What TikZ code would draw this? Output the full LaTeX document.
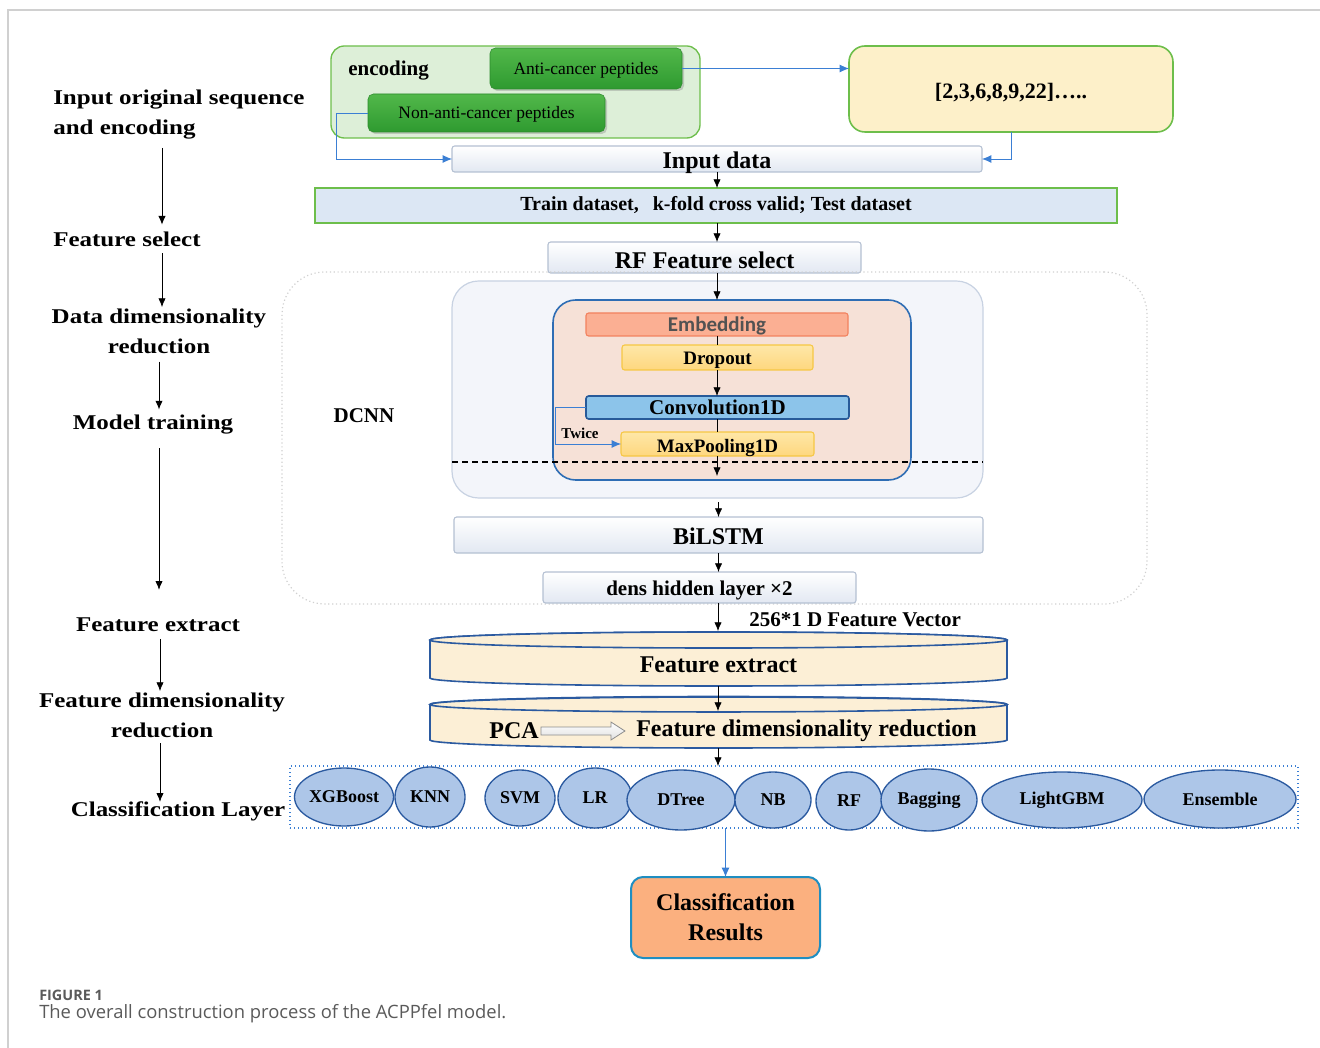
\documentclass[tikz,border=0pt]{standalone}
\usepackage{fontspec}
\setmainfont{Liberation Serif}
\newfontfamily\lblfont[FakeStretch=1.19]{Liberation Serif}
\newfontfamily\embfont{Carlito}
\newfontfamily\capfont{Open Sans}
\usetikzlibrary{arrows.meta,shapes.geometric,shadows}
\definecolor{encfill}{HTML}{DDEFD8}
\definecolor{encline}{HTML}{6DBE4B}
\definecolor{gtop}{HTML}{52B84A}
\definecolor{gbot}{HTML}{2E9A30}
\definecolor{gline}{HTML}{2C8A2C}
\definecolor{vecfill}{HTML}{FDF0C9}
\definecolor{linkblue}{HTML}{3B7FD4}
\definecolor{barline}{HTML}{B4C0D2}
\definecolor{barbot}{HTML}{E2E8F2}
\definecolor{trainfill}{HTML}{DCE7F4}
\definecolor{dcnnfill}{HTML}{F3F5FA}
\definecolor{dcnnline}{HTML}{C8D2E2}
\definecolor{orfill}{HTML}{F6E1D7}
\definecolor{orline}{HTML}{2E6DB4}
\definecolor{embfill}{HTML}{FBAF93}
\definecolor{embline}{HTML}{F2815E}
\definecolor{yelfill}{HTML}{FED77E}
\definecolor{yeltop}{HTML}{FEE7A8}
\definecolor{yelline}{HTML}{F6C744}
\definecolor{convfill}{HTML}{8CC4EA}
\definecolor{convline}{HTML}{275A99}
\definecolor{cylfill}{HTML}{FCEFD6}
\definecolor{cylline}{HTML}{2B5AA0}
\definecolor{ellfill}{HTML}{ADC6E8}
\definecolor{resfill}{HTML}{FBB07F}
\definecolor{resline}{HTML}{1F8EC1}
\definecolor{capgray}{HTML}{5A5A5A}
\definecolor{framegray}{HTML}{D0D0D0}
\begin{document}
\begin{tikzpicture}[x=0.75pt,y=-0.75pt,
  rect/.style n args={4}{minimum width={(#3-#1)*0.75pt}, minimum height={(#4-#2)*0.75pt},
        at={({(#1+#3)/2},{(#2+#4)/2})}, inner sep=0, outer sep=0},
  vc/.style={text height=#1, text depth=0pt},
  lbl/.style={font=\lblfont\bfseries\fontsize{15.75}{22.5}\selectfont, align=center, inner sep=0},
  bigtxt/.style={font=\bfseries\fontsize{18}{22.5}\selectfont},
  midtxt/.style={font=\bfseries\fontsize{15.75}{19}\selectfont},
  bar/.style={draw=barline, top color=white, bottom color=barbot, rounded corners=2pt, line width=0.8pt},
  gbox/.style={top color=gtop, bottom color=gbot, draw=gline, rounded corners=4pt,
     font=\fontsize{13.1}{16}\selectfont, drop shadow={opacity=.35,shadow xshift=1.5pt,shadow yshift=-1.5pt}},
  yelbox/.style={top color=yeltop, bottom color=yelfill, draw=yelline, line width=0.8pt, rounded corners=2pt},
  karrow/.style={-{Latex[length=6.5pt,width=5.5pt]}, black, line width=0.6pt},
  barrow/.style={-{Latex[length=7pt,width=6pt]}, linkblue, line width=0.7pt},
  ell/.style={ellipse, draw=cylline, fill=ellfill, line width=1pt, inner sep=0, font=\bfseries\fontsize{13.5}{16}\selectfont},
  cylbody/.style={fill=cylfill, draw=cylline, line width=1.2pt}
]
\useasboundingbox (0,0) rectangle (1320,1048);
% page frame
\draw[framegray, line width=0.8pt] (8,1048) -- (8,10) -- (1320,10);

% ---------- left column ----------
\node[lbl, align=left, anchor=west] (l1) at (53,115) {Input original sequence\\and encoding};
\node[lbl, anchor=west] (l2) at (53,239) {Feature select};
\node[lbl] (l3) at (159,331) {Data dimensionality\\reduction};
\node[lbl] (l4) at (153,425) {Model training};
\node[lbl] (l5) at (158,625) {Feature extract};
\node[lbl] (l6) at (162,715) {Feature dimensionality\\reduction};
\node[lbl] (l7) at (178,811) {Classification Layer};
\draw[karrow, shorten <=6pt, shorten >=5pt] (l1.south -| 162,0) -- (l2.north -| 162,0);
\draw[karrow, shorten <=5pt, shorten >=1pt] (l2.south -| 162,0) -- (l3.north -| 162,0);
\draw[karrow, shorten <=6pt, shorten >=4.25pt] (l3.south -| 159,0) -- (l4.north -| 159,0);
\draw[karrow, shorten <=10pt, shorten >=21pt] (l4.south -| 159,0) -- (l5.north -| 159,0);
\draw[karrow, shorten <=5pt, shorten >=1pt] (l5.south -| 160,0) -- (l6.north -| 160,0);
\draw[karrow, shorten <=4pt, shorten >=-0.5pt] (l6.south -| 160,0) -- (l7.north -| 160,0);

% ---------- encoding ----------
\node[draw=encline, fill=encfill, rounded corners=10pt, line width=1pt, rect={331}{46}{700}{138}] (enc) {};
\node[font=\bfseries\fontsize{15.75}{18}\selectfont, anchor=west, inner sep=0] (enct) at (348,71) {encoding};
\node[gbox, vc=8.9pt, rect={490}{48}{682}{89}] (acp) {Anti-cancer peptides};
\node[gbox, vc=8.9pt, rect={368}{94}{605}{132}] (nacp) {Non-anti-cancer peptides};
\node[draw=encline, fill=vecfill, rounded corners=12pt, line width=1.2pt, rect={849}{46}{1173}{132}, vc=13.6pt,
      font=\bfseries\fontsize{16.5}{20}\selectfont] (vec) {[2,3,6,8,9,22]…..};

% ---------- bars ----------
\node[bar, bigtxt, vc=14.4pt, rect={452}{146}{982}{172}] (input) {Input data};
\node[draw=encline, fill=trainfill, line width=1pt, rect={315}{188}{1117}{223},
      font=\bfseries\fontsize{15}{18}\selectfont] (train) {Train dataset,\hspace{0.7em}k-fold cross valid; Test dataset};
\node[bar, bigtxt, vc=15.8pt, rect={548}{242}{861}{273}] (rf) {RF Feature select};

\draw[barrow] (acp.east) -- (acp.east -| vec.west);
\draw[barrow] (nacp.west) -- ++(-32,0) |- (input.west);
\draw[barrow] (vec.south) |- (input.east);
\draw[karrow] (input.south) -- (train.north -| input.south);
\draw[karrow] (train.south -| input.south) -- (rf.north -| input.south);

% ---------- DCNN ----------
\node[draw=framegray, dotted, line width=0.9pt, rounded corners=32pt, rect={282}{272}{1147}{604}] (dreg) {};
\node[midtxt, inner sep=0] (dlbl) at (364,416) {DCNN};
\node[draw=dcnnline, fill=dcnnfill, line width=0.9pt, rounded corners=20pt, rect={452}{281}{983}{498}] (big) {};
\node[draw=orline, fill=orfill, line width=1.2pt, rounded corners=17pt, rect={553}{300}{911}{480}] (orb) {};
\node[fill=embfill, draw=embline, line width=0.8pt, rounded corners=2pt, rect={586}{313}{848}{336}, vc=10.4pt,
      font=\embfont\bfseries\fontsize{15.75}{18}\selectfont, text=black!68] (emb) {Embedding};
\node[yelbox, vc=11.1pt, rect={622}{345}{813}{370}, font=\bfseries\fontsize{14.25}{17}\selectfont] (drop) {Dropout};
\node[fill=convfill, draw=convline, line width=1.2pt, rounded corners=2pt, rect={586}{396}{849}{419},
      font=\bfseries\fontsize{15.75}{18}\selectfont] (conv) {Convolution1D};
\node[yelbox, vc=12.2pt, rect={621}{432}{814}{456}, font=\bfseries\fontsize{14.25}{17}\selectfont] (mp) {MaxPooling1D};
\node[font=\bfseries\fontsize{11.25}{13}\selectfont, inner sep=0] (twice) at (580,433) {Twice};
\coordinate (mpout) at (717,476);

\draw[karrow] (rf.south -| input.south) -- (orb.north -| input.south);
\draw[line width=0.6pt] (emb.south -| input.south) -- (drop.north -| input.south);
\draw[karrow] (drop.south -| input.south) -- (conv.north -| input.south);
\draw[line width=0.6pt] (conv.south -| input.south) -- (mp.north -| input.south);
\draw[karrow] (mp.south -| input.south) -- (mpout);
\draw[barrow] (conv.west) -- ++(-31,0) |- (mp.west);
\draw[dashed, dash pattern=on 4.5pt off 3pt, line width=0.9pt] (big.west |- 0,462) -- (big.east |- 0,462);

\node[bar, bigtxt, vc=13.7pt, rect={454}{517}{983}{553}] (bilstm) {BiLSTM};
\node[bar, vc=11.6pt, rect={543}{572}{856}{603}, font=\bfseries\fontsize{15.75}{18}\selectfont] (dens) {dens hidden layer ×2};
\draw[karrow, shorten <=3pt] (big.south -| bilstm.north) -- (bilstm.north);
\draw[karrow] (bilstm.south) -- (dens.north -| bilstm.south);

% ---------- cylinders ----------
\path[cylbody] (430,640) -- (430,678) arc[start angle=180, end angle=360, x radius=216.375pt, y radius=6pt]
   -- (1007,640) arc[start angle=0, end angle=180, x radius=216.375pt, y radius=6pt] -- cycle;
\draw[cylbody] (718.5,640) ellipse [x radius=216.375pt, y radius=6pt];
\node[bigtxt, inner sep=0] (fe) at (718.5,665) {Feature extract};
\coordinate (fetop) at (718,631);
\coordinate (febot) at (718,686);

\path[cylbody] (430,704.5) -- (430,740) arc[start angle=180, end angle=360, x radius=216.375pt, y radius=6pt]
   -- (1007,704.5) arc[start angle=0, end angle=180, x radius=216.375pt, y radius=6pt] -- cycle;
\draw[cylbody] (718.5,704.5) ellipse [x radius=216.375pt, y radius=5.6pt];
\node[bigtxt, inner sep=0] (pca) at (514,731) {PCA};
\node[bigtxt, inner sep=0] (fdr) at (806.5,731) {Feature dimensionality reduction};
\draw[draw=black!45, line width=0.6pt, top color=white, bottom color=black!12]
   (pca.east) ++(2,-4) -- ++(70,0) -- ++(0,-5) -- ++(14,9) -- ++(-14,9) -- ++(0,-5) -- ++(-70,0) -- cycle;
\coordinate (pcatop) at (718,711);
\coordinate (pcabot) at (718,748);

\node[anchor=west, inner sep=0, font=\bfseries\fontsize{15.75}{18}\selectfont] (fv) at (749,620) {256*1 D Feature Vector};
\draw[karrow] (dens.south -| fetop) -- (fetop);
\draw[karrow] (febot) -- (pcatop);

% ---------- classification ----------
\node[draw=linkblue, dotted, line width=1pt, rect={290}{766}{1298}{828}] (cls) {};
\draw[karrow] (pcabot) -- (pcabot |- cls.north);
\node[ell, minimum width=70.5pt, minimum height=43.5pt] (xgb) at (344,797) {XGBoost};
\node[ell, minimum width=52.5pt, minimum height=45pt] (knn) at (430,797) {KNN};
\node[ell, minimum width=52.5pt, minimum height=42pt] (svm) at (520,798) {SVM};
\node[ell, minimum width=55.5pt, minimum height=45pt] (lr) at (595,798) {LR};
\node[ell, minimum width=81pt, minimum height=45pt] (dtree) at (681,800) {DTree};
\node[ell, minimum width=57pt, minimum height=42pt] (nb) at (773,800) {NB};
\node[ell, minimum width=49.5pt, minimum height=43.5pt] (rfc) at (849,801) {RF};
\node[ell, minimum width=72pt, minimum height=46.5pt] (bag) at (929,800) {Bagging};
\node[ell, minimum width=120pt, minimum height=42pt] (lgbm) at (1062,800) {LightGBM};
\node[ell, minimum width=114pt, minimum height=43.5pt] (ens) at (1220,799) {Ensemble};

\node[fill=resfill, draw=resline, line width=1.5pt, rounded corners=9pt, rect={631}{877}{820}{958},
      align=center, font=\bfseries\fontsize{18}{22.5}\selectfont] (res) {Classification\\Results};
\draw[barrow] (cls.south -| res.north) -- (res.north);

% ---------- caption ----------
\node[anchor=west, inner sep=0, text=capgray, font=\capfont\bfseries\fontsize{10.8}{13}\selectfont] (fig) at (39,995) {FIGURE 1};
\node[anchor=west, inner sep=0, text=capgray, font=\capfont\fontsize{13.8}{16}\selectfont] (cap) at (39,1014) {The overall construction process of the ACPPfel model.};
\end{tikzpicture}
\end{document}
